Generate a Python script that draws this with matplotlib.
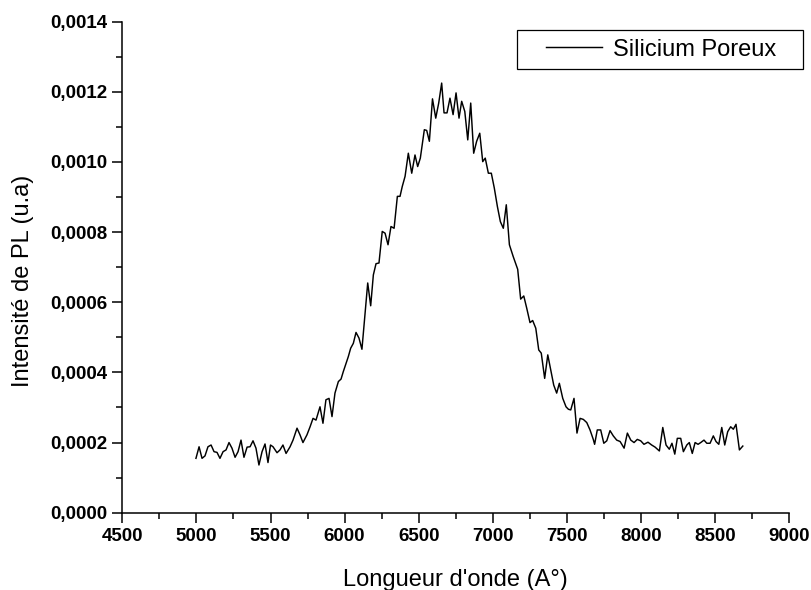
import matplotlib
matplotlib.use("Agg")
import matplotlib.pyplot as plt
from matplotlib.ticker import FuncFormatter, MultipleLocator
from matplotlib.patches import Rectangle

plt.rcParams['font.family'] = ['Liberation Sans', 'DejaVu Sans']

wavelength = [4997, 5018, 5038, 5058, 5078, 5099, 5119, 5139, 5159, 5180,
              5200, 5220, 5240, 5261, 5281, 5301, 5321, 5342, 5362, 5382,
              5402, 5422, 5443, 5463, 5483, 5500, 5517, 5544, 5564, 5584,
              5605, 5632, 5652, 5679, 5699, 5719, 5746, 5767, 5787, 5807,
              5834, 5854, 5874, 5895, 5915, 5935, 5958, 5976, 5991, 6010,
              6025, 6041, 6059, 6077, 6097, 6117, 6136, 6156, 6176, 6194,
              6212, 6232, 6254, 6273, 6293, 6313, 6334, 6356, 6374, 6389,
              6408, 6430, 6453, 6475, 6493, 6511, 6538, 6554, 6572, 6593,
              6615, 6635, 6655, 6671, 6691, 6711, 6732, 6752, 6772, 6790,
              6811, 6831, 6851, 6871, 6891, 6912, 6932, 6949, 6970, 6990,
              7010, 7031, 7051, 7071, 7091, 7112, 7138, 7168, 7188, 7209,
              7229, 7251, 7269, 7290, 7310, 7327, 7350, 7371, 7391, 7411,
              7431, 7449, 7472, 7494, 7510, 7526, 7548, 7568, 7589, 7611,
              7634, 7656, 7678, 7687, 7705, 7728, 7749, 7769, 7791, 7813,
              7836, 7859, 7886, 7908, 7931, 7953, 7975, 7998, 8020, 8047,
              8072, 8095, 8124, 8147, 8169, 8191, 8209, 8228, 8245, 8268,
              8286, 8309, 8326, 8346, 8365, 8385, 8403, 8425, 8444, 8466,
              8488, 8506, 8525, 8545, 8565, 8585, 8605, 8623, 8641, 8664,
              8687]

intensity = [0.000155, 0.000188, 0.000155, 0.000162, 0.000188, 0.000193, 0.000174, 0.000172, 0.000155, 0.000174,
             0.000179, 0.000200, 0.000184, 0.000158, 0.000174, 0.000207, 0.000158, 0.000187, 0.000188, 0.000205,
             0.000184, 0.000136, 0.000174, 0.000196, 0.000143, 0.000193, 0.000188, 0.000171, 0.000179, 0.000193,
             0.000169, 0.000188, 0.000207, 0.000241, 0.000222, 0.000200, 0.000222, 0.000245, 0.000269, 0.000264,
             0.000302, 0.000255, 0.000322, 0.000326, 0.000274, 0.000341, 0.000374, 0.000381, 0.000402, 0.000426,
             0.000445, 0.000469, 0.000483, 0.000514, 0.000498, 0.000466, 0.000559, 0.000655, 0.000590, 0.000678,
             0.000710, 0.000712, 0.000802, 0.000797, 0.000764, 0.000816, 0.000811, 0.000902, 0.000902, 0.000930,
             0.000959, 0.001025, 0.000968, 0.001020, 0.000987, 0.001011, 0.001092, 0.001090, 0.001059, 0.001180,
             0.001125, 0.001168, 0.001225, 0.001140, 0.001140, 0.001182, 0.001135, 0.001197, 0.001125, 0.001173,
             0.001144, 0.001063, 0.001168, 0.001025, 0.001059, 0.001082, 0.001001, 0.001011, 0.000968, 0.000968,
             0.000926, 0.000873, 0.000830, 0.000811, 0.000878, 0.000764, 0.000730, 0.000694, 0.000609, 0.000618,
             0.000583, 0.000542, 0.000548, 0.000526, 0.000464, 0.000455, 0.000383, 0.000450, 0.000407, 0.000364,
             0.000341, 0.000369, 0.000326, 0.000302, 0.000295, 0.000293, 0.000326, 0.000227, 0.000269, 0.000266,
             0.000257, 0.000236, 0.000209, 0.000195, 0.000236, 0.000236, 0.000198, 0.000205, 0.000234, 0.000219,
             0.000207, 0.000203, 0.000184, 0.000227, 0.000207, 0.000200, 0.000209, 0.000205, 0.000195, 0.000201,
             0.000193, 0.000187, 0.000176, 0.000243, 0.000193, 0.000181, 0.000198, 0.000167, 0.000212, 0.000212,
             0.000174, 0.000193, 0.000200, 0.000169, 0.000200, 0.000195, 0.000200, 0.000207, 0.000198, 0.000198,
             0.000219, 0.000203, 0.000195, 0.000243, 0.000193, 0.000231, 0.000245, 0.000238, 0.000252, 0.000179,
             0.000190]

series_label = "Silicium Poreux"
x_label = "Longueur d'onde (A°)"
y_label = "Intensité de PL (u.a)"

W, H = 811, 590
fig = plt.figure(figsize=(W / 100, H / 100), dpi=100)
ax = fig.add_axes([122.3 / W, 1 - 512.7 / H, (789.2 - 122.3) / W, (512.7 - 21.7) / H])

line, = ax.plot(wavelength, intensity, color='black', linewidth=1.05, label=series_label)

ax.set_xlim(4500, 9000)
ax.set_ylim(0, 0.0014)
ax.xaxis.set_major_locator(MultipleLocator(500))
ax.xaxis.set_minor_locator(MultipleLocator(250))
ax.yaxis.set_major_locator(MultipleLocator(0.0002))
ax.yaxis.set_minor_locator(MultipleLocator(0.0001))
ax.xaxis.set_major_formatter(FuncFormatter(lambda v, p: f"{v:.0f}"))
ax.yaxis.set_major_formatter(FuncFormatter(lambda v, p: f"{v:.4f}".replace('.', ',')))

for s in ['top', 'right']:
    ax.spines[s].set_visible(False)
for s in ['left', 'bottom']:
    ax.spines[s].set_linewidth(1.1)

ax.tick_params(which='major', direction='out', length=7.5, width=1.1, pad=3.5)
ax.tick_params(which='minor', direction='out', length=4.3, width=1.1)
for lab in ax.get_xticklabels() + ax.get_yticklabels():
    lab.set_fontweight('bold')
    lab.set_fontsize(13.5)

ax.set_xlabel(x_label, fontsize=17, labelpad=17)
ax.set_ylabel(y_label, fontsize=17)
ax.yaxis.set_label_coords((34 - 122.3) / (789.2 - 122.3), 0.472)

# legend
bx0, bx1, by0, by1 = 516.7, 803.3, 30, 69
fig.patches.append(Rectangle((bx0 / W, 1 - by1 / H), (bx1 - bx0) / W, (by1 - by0) / H,
                             transform=fig.transFigure, fill=False, edgecolor='black',
                             linewidth=0.9, figure=fig))
fig.legend(handles=[line], loc='center', bbox_to_anchor=((bx0 + bx1) / 2 / W + 0.001, 1 - (by0 + by1) / 2 / H),
           frameon=False, fontsize=17, handlelength=2.4, handletextpad=0.45, borderpad=0, borderaxespad=0)

fig.savefig("out.png", dpi=100)
